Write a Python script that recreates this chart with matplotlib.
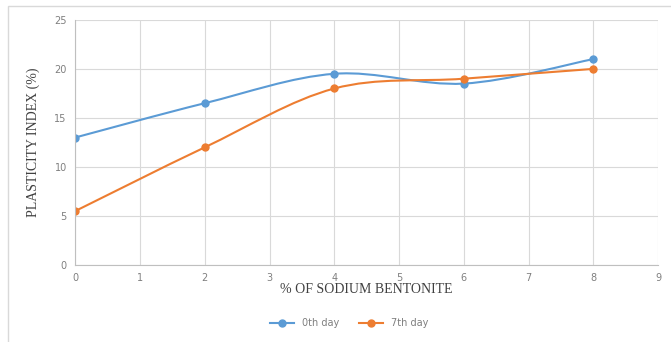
import matplotlib.pyplot as plt
from matplotlib.path import Path
from matplotlib.patches import PathPatch, Rectangle
from matplotlib.lines import Line2D

# data
bentonite = [0, 2, 4, 6, 8]
day0 = [13, 16.5, 19.5, 18.5, 21]
day7 = [5.5, 12, 18, 19, 20]
labels = ["0th day", "7th day"]
colors = ["#5B9BD5", "#ED7D31"]


def smooth_path(xs, ys, t=1/6.0):
    # excel-like smoothed line: cubic bezier segments through the points
    verts = [(xs[0], ys[0])]
    codes = [Path.MOVETO]
    n = len(xs)
    for i in range(n - 1):
        x0, y0 = (xs[i - 1], ys[i - 1]) if i > 0 else (xs[i], ys[i])
        x1, y1 = xs[i], ys[i]
        x2, y2 = xs[i + 1], ys[i + 1]
        x3, y3 = (xs[i + 2], ys[i + 2]) if i + 2 < n else (x2, y2)
        c1 = (x1 + (x2 - x0) * t, y1 + (y2 - y0) * t)
        c2 = (x2 - (x3 - x1) * t, y2 - (y3 - y1) * t)
        verts += [c1, c2, (x2, y2)]
        codes += [Path.CURVE4] * 3
    return Path(verts, codes)


fig = plt.figure(figsize=(6.71, 3.42), dpi=100)
ax = fig.add_axes([0.112, 0.225, 0.869, 0.717])

fig.patches.append(Rectangle((0.012, -0.01), 0.99, 0.993, transform=fig.transFigure,
                             fill=False, edgecolor="#d9d9d9", lw=1))

for ys, c in zip([day0, day7], colors):
    ax.add_patch(PathPatch(smooth_path(bentonite, ys), fill=False, edgecolor=c, lw=1.5))
    ax.plot(bentonite, ys, ls="none", marker="o", ms=5, color=c)

ax.set_xlim(0, 9)
ax.set_ylim(0, 25)
ax.set_xticks(range(0, 10))
ax.set_yticks(range(0, 26, 5))
ax.grid(True, color="#d9d9d9", lw=0.8)
ax.set_axisbelow(True)
for s in ["top", "right"]:
    ax.spines[s].set_visible(False)
for s in ["left", "bottom"]:
    ax.spines[s].set_color("#bfbfbf")
ax.tick_params(length=0, labelsize=7, colors="#7f7f7f", pad=6)

ax.set_xlabel("% OF SODIUM BENTONITE", family="Liberation Serif", fontsize=10,
              color="#404040", labelpad=0)
ax.set_ylabel("PLASTICITY INDEX (%)", family="Liberation Serif", fontsize=10,
              color="#404040", labelpad=10)

handles = [Line2D([], [], color=c, marker="o", ms=5, lw=1.5) for c in colors]
fig.legend(handles, labels, loc="center", bbox_to_anchor=(0.52, 0.055), ncol=2,
           frameon=False, fontsize=7, labelcolor="#7f7f7f", handlelength=2.5)

fig.savefig("out.png", dpi=100)
